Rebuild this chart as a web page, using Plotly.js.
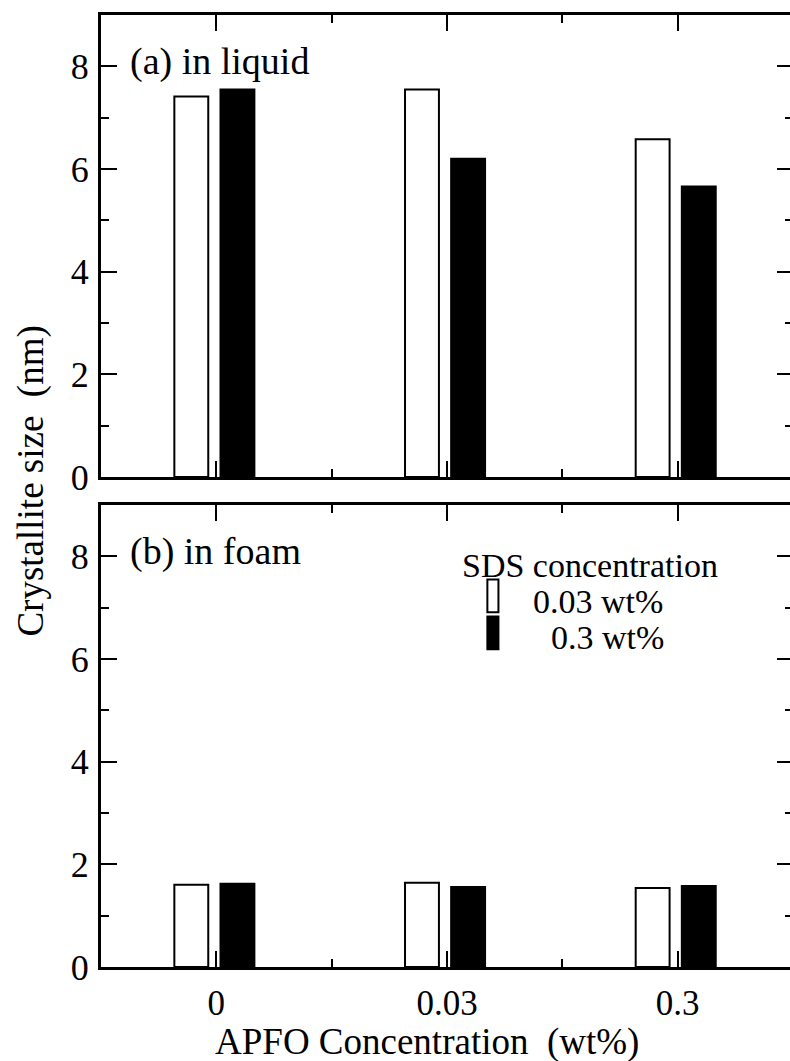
<!DOCTYPE html>
<html><head><meta charset="utf-8">
<script src="https://cdn.plot.ly/plotly-3.0.1.min.js"></script>
<style>html,body{margin:0;padding:0;overflow:hidden;background:#fff}</style>
</head><body><div id="chart" style="width:800px;height:1061px"></div>
<script>
const categories = [1, 2, 3];
const tickLabels = ["0", "0.03", "0.3"];
const liquidSDS003 = [7.41, 7.55, 6.58];
const liquidSDS03 = [7.55, 6.20, 5.66];
const foamSDS003 = [1.60, 1.64, 1.54];
const foamSDS03 = [1.62, 1.56, 1.58];
const seriesNames = ["0.03 wt%", "0.3 wt%"];

const font = "Liberation Serif";
const bw = 0.147;
function bar(y, filled, xa, ya, name) {
  return {type:"bar", x:categories, y:y, xaxis:xa, yaxis:ya, name:name, showlegend:false,
    width:bw, offset: filled ? 0.018 : -0.182,
    marker:{color: filled ? "#000" : "#fff", line:{color:"#000", width:2}}};
}
const data = [
  bar(liquidSDS003, false, "x", "y", seriesNames[0]),
  bar(liquidSDS03, true, "x", "y", seriesNames[1]),
  bar(foamSDS003, false, "x2", "y2", seriesNames[0]),
  bar(foamSDS03, true, "x2", "y2", seriesNames[1])
];
const xcommon = {range:[0.5,3.5], showline:true, linewidth:3, linecolor:"#000", mirror:"ticks",
  ticks:"inside", ticklen:16, tickwidth:2, tickcolor:"#000", tickvals:categories, ticktext:tickLabels,
  minor:{tickvals:[1.5,2.5], ticklen:8, tickwidth:2, tickcolor:"#000", ticks:"inside"},
  showgrid:false, zeroline:false, tickfont:{family:font, size:35, color:"#000"}, ticklabelstandoff:3};
const ycommon = {range:[0,9], showline:true, linewidth:3, linecolor:"#000", mirror:"ticks",
  ticks:"inside", ticklen:16, tickwidth:2, tickcolor:"#000", dtick:2, tick0:0,
  minor:{dtick:1, ticklen:8, tickwidth:2, tickcolor:"#000", ticks:"inside"},
  showgrid:false, zeroline:false, tickfont:{family:font, size:36, color:"#000"}, ticklabelstandoff:2};
const layout = {
  width:800, height:1061, margin:{l:101, r:7, t:15, b:94},
  paper_bgcolor:"#fff", plot_bgcolor:"#fff", font:{family:font, color:"#000"},
  xaxis:Object.assign({}, xcommon, {anchor:"y", showticklabels:false}),
  yaxis:Object.assign({}, ycommon, {domain:[0.5147,1], anchor:"x"}),
  xaxis2:Object.assign({}, xcommon, {anchor:"y2"}),
  yaxis2:Object.assign({}, ycommon, {domain:[0,0.4853], anchor:"x2"}),
  annotations:[
    {xref:"paper", yref:"paper", x:0.471, y:-0.0546, text:"APFO Concentration  (wt%)", showarrow:false,
      font:{family:font, size:37, color:"#000"}, xanchor:"center", yanchor:"top"},
    {xref:"paper", yref:"paper", x:-0.101, y:0.51, text:"Crystallite size  (nm)", textangle:-90, showarrow:false,
      font:{family:font, size:37, color:"#000"}, xanchor:"center", yanchor:"middle"},
    {xref:"x", yref:"y", x:0.615, y:8.1, text:"(a) in liquid", showarrow:false, xanchor:"left", yanchor:"middle", font:{family:font,size:38,color:"#000"}},
    {xref:"x2", yref:"y2", x:0.615, y:8.1, text:"(b) in foam", showarrow:false, xanchor:"left", yanchor:"middle", font:{family:font,size:38,color:"#000"}},
    {xref:"x2", yref:"y2", x:2.62, y:7.82, text:"SDS concentration", showarrow:false, xanchor:"center", yanchor:"middle", font:{family:font,size:34,color:"#000"}},
    {xref:"x2", yref:"y2", x:2.365, y:7.12, text:seriesNames[0], showarrow:false, xanchor:"left", yanchor:"middle", font:{family:font,size:34,color:"#000"}},
    {xref:"x2", yref:"y2", x:2.443, y:6.42, text:seriesNames[1], showarrow:false, xanchor:"left", yanchor:"middle", font:{family:font,size:34,color:"#000"}}
  ],
  shapes:[
    {type:"rect", xref:"x2", yref:"y2", x0:2.175, x1:2.223, y0:6.91, y1:7.55, line:{color:"#000",width:2}, fillcolor:"#fff"},
    {type:"rect", xref:"x2", yref:"y2", x0:2.175, x1:2.223, y0:6.19, y1:6.83, line:{color:"#000",width:2}, fillcolor:"#000"}
  ]
};
Plotly.newPlot("chart", data, layout, {staticPlot:true, displayModeBar:false});
</script></body></html>
